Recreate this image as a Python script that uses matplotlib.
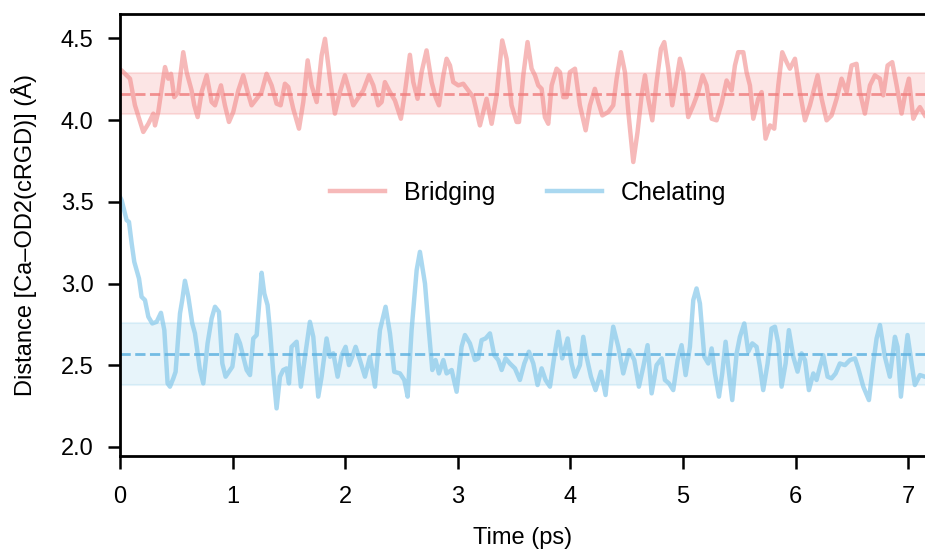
import matplotlib
matplotlib.use("Agg")
import matplotlib.pyplot as plt

plt.rcParams['font.family'] = ['Liberation Sans', 'DejaVu Sans']

# Ca-OD2 distance, bridging mode
bridging_t = [0.0, 0.015, 0.059, 0.089, 0.133, 0.207, 0.252, 0.296, 0.311, 0.340, 0.370,
              0.400, 0.429, 0.453, 0.482, 0.518, 0.562, 0.592, 0.636, 0.660, 0.690,
              0.725, 0.770, 0.814, 0.844, 0.897, 0.932, 0.968, 1.006, 1.051, 1.095,
              1.134, 1.169, 1.214, 1.258, 1.302, 1.347, 1.391, 1.427, 1.465, 1.495,
              1.539, 1.590, 1.628, 1.667, 1.702, 1.747, 1.791, 1.821, 1.865, 1.909,
              1.954, 1.998, 2.028, 2.072, 2.131, 2.161, 2.211, 2.250, 2.294, 2.324,
              2.353, 2.398, 2.442, 2.495, 2.531, 2.575, 2.605, 2.643, 2.679, 2.723,
              2.768, 2.803, 2.833, 2.872, 2.901, 2.931, 2.960, 3.005, 3.049, 3.093,
              3.138, 3.197, 3.227, 3.256, 3.301, 3.345, 3.395, 3.434, 3.478, 3.523,
              3.544, 3.582, 3.620, 3.656, 3.686, 3.715, 3.745, 3.774, 3.804, 3.834,
              3.878, 3.908, 3.937, 3.967, 3.996, 4.041, 4.085, 4.136, 4.174, 4.218,
              4.248, 4.284, 4.337, 4.381, 4.411, 4.449, 4.485, 4.515, 4.559, 4.597,
              4.633, 4.663, 4.692, 4.728, 4.766, 4.805, 4.834, 4.870, 4.905, 4.935,
              4.973, 5.003, 5.047, 5.092, 5.136, 5.175, 5.210, 5.255, 5.299, 5.343,
              5.388, 5.432, 5.462, 5.491, 5.536, 5.565, 5.595, 5.625, 5.669, 5.699,
              5.734, 5.773, 5.811, 5.847, 5.882, 5.921, 5.950, 5.995, 6.039, 6.084,
              6.128, 6.166, 6.196, 6.232, 6.276, 6.320, 6.365, 6.409, 6.454, 6.498,
              6.542, 6.572, 6.616, 6.661, 6.705, 6.750, 6.779, 6.818, 6.859, 6.898,
              6.942, 6.977, 7.007, 7.046, 7.075, 7.105, 7.149]
bridging_d = [4.31, 4.304, 4.274, 4.254, 4.091, 3.928, 3.978, 4.040, 3.968, 4.050, 4.192,
              4.325, 4.254, 4.284, 4.141, 4.172, 4.416, 4.294, 4.182, 4.091, 4.019,
              4.172, 4.274, 4.111, 4.091, 4.213, 4.091, 3.989, 4.050, 4.182, 4.274,
              4.172, 4.091, 4.131, 4.172, 4.284, 4.213, 4.101, 4.091, 4.223, 4.203,
              4.070, 3.948, 4.111, 4.366, 4.213, 4.111, 4.396, 4.498, 4.254, 4.040,
              4.172, 4.274, 4.203, 4.091, 4.152, 4.182, 4.274, 4.213, 4.091, 4.111,
              4.233, 4.172, 4.121, 4.009, 4.172, 4.400, 4.233, 4.131, 4.294, 4.427,
              4.233, 4.141, 4.091, 4.274, 4.376, 4.335, 4.233, 4.213, 4.223, 4.182,
              4.141, 3.968, 4.050, 4.131, 3.978, 4.152, 4.488, 4.376, 4.091, 3.989,
              3.989, 4.274, 4.478, 4.315, 4.274, 4.213, 4.192, 4.019, 3.978, 4.213,
              4.315, 4.294, 4.141, 4.141, 4.294, 4.315, 4.091, 3.938, 4.091, 4.192,
              4.111, 4.029, 4.050, 4.091, 4.254, 4.416, 4.294, 4.050, 3.744, 3.928,
              4.152, 4.274, 4.131, 3.999, 4.233, 4.437, 4.478, 4.315, 4.091, 4.213,
              4.376, 4.294, 4.019, 4.091, 4.172, 4.274, 4.213, 4.009, 3.999, 4.101,
              4.243, 4.182, 4.335, 4.416, 4.416, 4.294, 4.213, 4.009, 4.131, 4.172,
              3.887, 3.968, 3.948, 4.213, 4.416, 4.355, 4.315, 4.376, 4.172, 3.999,
              4.091, 4.192, 4.274, 4.131, 3.999, 4.029, 4.131, 4.254, 4.172, 4.335,
              4.345, 4.172, 4.040, 4.213, 4.274, 4.254, 4.152, 4.335, 4.355, 4.213,
              4.040, 4.172, 4.254, 4.009, 4.050, 4.080, 4.029]

# Ca-OD2 distance, chelating mode
chelating_t = [0.0, 0.015, 0.059, 0.080, 0.104, 0.127, 0.148, 0.169, 0.192, 0.222, 0.252,
               0.287, 0.326, 0.364, 0.394, 0.423, 0.444, 0.474, 0.494, 0.533, 0.553,
               0.577, 0.607, 0.642, 0.666, 0.710, 0.740, 0.778, 0.814, 0.844, 0.879,
               0.909, 0.938, 0.968, 0.998, 1.036, 1.066, 1.095, 1.125, 1.155, 1.184,
               1.214, 1.234, 1.258, 1.282, 1.311, 1.332, 1.362, 1.391, 1.421, 1.450,
               1.480, 1.501, 1.524, 1.569, 1.607, 1.643, 1.687, 1.717, 1.761, 1.791,
               1.835, 1.865, 1.895, 1.933, 1.969, 2.004, 2.034, 2.063, 2.093, 2.131,
               2.176, 2.220, 2.265, 2.309, 2.359, 2.398, 2.436, 2.487, 2.525, 2.555,
               2.590, 2.635, 2.664, 2.709, 2.738, 2.774, 2.803, 2.833, 2.872, 2.901,
               2.946, 2.990, 3.034, 3.064, 3.108, 3.153, 3.182, 3.212, 3.247, 3.286,
               3.324, 3.360, 3.390, 3.425, 3.463, 3.508, 3.552, 3.591, 3.632, 3.671,
               3.709, 3.745, 3.780, 3.819, 3.857, 3.893, 3.928, 3.976, 4.011, 4.041,
               4.085, 4.115, 4.144, 4.183, 4.224, 4.272, 4.313, 4.343, 4.381, 4.426,
               4.470, 4.523, 4.568, 4.609, 4.648, 4.686, 4.722, 4.766, 4.811, 4.840,
               4.876, 4.914, 4.953, 4.988, 5.024, 5.062, 5.092, 5.121, 5.151, 5.190,
               5.225, 5.255, 5.284, 5.320, 5.349, 5.379, 5.403, 5.438, 5.477, 5.506,
               5.545, 5.580, 5.616, 5.654, 5.684, 5.713, 5.752, 5.787, 5.817, 5.847,
               5.876, 5.912, 5.941, 5.980, 6.018, 6.054, 6.084, 6.119, 6.158, 6.187,
               6.217, 6.246, 6.285, 6.320, 6.356, 6.394, 6.439, 6.483, 6.528, 6.557,
               6.602, 6.652, 6.690, 6.720, 6.750, 6.794, 6.838, 6.883, 6.906, 6.936,
               6.966, 6.995, 7.031, 7.060, 7.105, 7.149]
chelating_d = [3.53, 3.510, 3.388, 3.377, 3.245, 3.133, 3.082, 3.031, 2.919, 2.899, 2.797,
               2.756, 2.766, 2.821, 2.715, 2.389, 2.369, 2.420, 2.460, 2.817, 2.899,
               3.017, 2.919, 2.756, 2.695, 2.471, 2.389, 2.634, 2.786, 2.858, 2.827,
               2.511, 2.430, 2.460, 2.491, 2.685, 2.634, 2.552, 2.471, 2.440, 2.664,
               2.685, 2.858, 3.066, 2.939, 2.868, 2.715, 2.450, 2.236, 2.430, 2.471,
               2.481, 2.389, 2.613, 2.644, 2.369, 2.552, 2.766, 2.674, 2.308, 2.430,
               2.664, 2.552, 2.573, 2.430, 2.562, 2.613, 2.501, 2.552, 2.613, 2.532,
               2.430, 2.552, 2.369, 2.715, 2.858, 2.695, 2.460, 2.450, 2.410, 2.308,
               2.715, 3.082, 3.194, 3.000, 2.756, 2.471, 2.532, 2.450, 2.532, 2.450,
               2.471, 2.338, 2.613, 2.685, 2.634, 2.532, 2.542, 2.654, 2.664, 2.695,
               2.562, 2.532, 2.471, 2.542, 2.511, 2.481, 2.410, 2.511, 2.583, 2.511,
               2.379, 2.481, 2.410, 2.369, 2.552, 2.705, 2.542, 2.664, 2.511, 2.430,
               2.501, 2.674, 2.552, 2.430, 2.348, 2.461, 2.318, 2.532, 2.736, 2.613,
               2.450, 2.593, 2.532, 2.369, 2.491, 2.623, 2.328, 2.501, 2.542, 2.410,
               2.389, 2.348, 2.532, 2.623, 2.440, 2.613, 2.899, 2.970, 2.878, 2.552,
               2.511, 2.603, 2.450, 2.308, 2.450, 2.644, 2.491, 2.287, 2.573, 2.674,
               2.756, 2.583, 2.634, 2.613, 2.491, 2.348, 2.511, 2.725, 2.736, 2.634,
               2.369, 2.511, 2.715, 2.552, 2.461, 2.573, 2.532, 2.348, 2.450, 2.410,
               2.491, 2.562, 2.430, 2.420, 2.450, 2.511, 2.501, 2.532, 2.542, 2.481,
               2.369, 2.287, 2.511, 2.664, 2.746, 2.552, 2.430, 2.674, 2.613, 2.308,
               2.511, 2.685, 2.511, 2.379, 2.440, 2.430]

bridging_mean, bridging_std = 4.163, 0.125
chelating_mean, chelating_std = 2.568, 0.19

red = '#f08080'
blue = '#87c8ea'

fig = plt.figure(figsize=(9.25, 5.5), dpi=100)
ax = fig.add_axes([0.1297, 0.171, 0.8703, 0.8036])

# shaded +/- std bands
ax.fill_between([0, 7.2], bridging_mean - bridging_std, bridging_mean + bridging_std,
                color=red, alpha=0.2, lw=1.5)
ax.fill_between([0, 7.2], chelating_mean - chelating_std, chelating_mean + chelating_std,
                color=blue, alpha=0.2, lw=1.5)

ax.plot(bridging_t, bridging_d, color=red, alpha=0.55, lw=3.2, label='Bridging')
ax.plot(chelating_t, chelating_d, color=blue, alpha=0.7, lw=3.2, label='Chelating')

ax.axhline(bridging_mean, color=red, alpha=0.85, lw=2, ls='--')
ax.axhline(chelating_mean, color='#5fb2e0', alpha=0.85, lw=2, ls='--')

ax.set_xlim(0, 7.15)
ax.set_ylim(1.945, 4.65)
ax.set_xticks(range(0, 8))
ax.set_yticks([2.0, 2.5, 3.0, 3.5, 4.0, 4.5])
ax.set_xlabel('Time (ps)', fontsize=17, labelpad=14)
ax.set_ylabel('Distance [Ca–OD2(cRGD)] (Å)', fontsize=17, labelpad=17)
ax.tick_params(labelsize=17, length=9, width=1.8, direction='out')
ax.tick_params(axis='x', pad=12.5)
ax.tick_params(axis='y', pad=10)
for s in ['left', 'bottom', 'top']:
    ax.spines[s].set_linewidth(2)
ax.spines['right'].set_visible(False)

ax.legend(loc='center', bbox_to_anchor=(0.507, 0.595), ncol=2, frameon=False,
          fontsize=18, handlelength=2.2, handletextpad=0.75, columnspacing=2.1)

fig.savefig('out.png', dpi=100)
